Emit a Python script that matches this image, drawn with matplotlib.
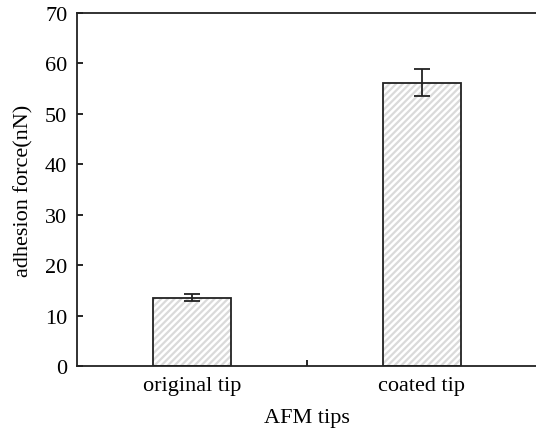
import matplotlib
matplotlib.use('Agg')
from matplotlib import pyplot as plt

categorias = ['original tip', 'coated tip']
forca = [13.5, 56.2]
erro = [0.7, 2.7]

plt.rcParams['font.family'] = ['Liberation Serif', 'DejaVu Serif']
plt.rcParams['hatch.linewidth'] = 1.6

fig = plt.figure(figsize=(5.36, 4.31), dpi=100)
ax = fig.add_axes([77 / 536, 1 - 367 / 431, 460 / 536, 353 / 431])

pos = list(range(len(categorias)))
ax.bar(pos, forca, width=0.34, color='white', edgecolor='#dadada', hatch='/////', linewidth=0)
ax.bar(pos, forca, width=0.34, fill=False, edgecolor='#222222', linewidth=1.3)
ax.errorbar(pos, forca, yerr=erro, fmt='none', ecolor='#222222', elinewidth=1.3,
            capsize=5.5, capthick=1.3)

ax.set_xlim(-0.5, 1.5)
ax.set_ylim(0, 70)
ax.set_yticks(range(0, 71, 10))
ax.set_xticks([0.5])
ax.set_xticklabels([''])
for p, c in zip(pos, categorias):
    ax.text(p, -1.9, c, ha='center', va='top', fontsize=16)
ax.tick_params(direction='in', length=4, width=1.2, labelsize=16)
ax.tick_params(axis='y', pad=7)
for s in ax.spines.values():
    s.set_linewidth(1.3)
    s.set_color('#222222')

ax.set_xlabel('AFM tips', fontsize=16, va='center')
ax.xaxis.set_label_coords(0.5, -0.145)
ax.set_ylabel('adhesion force(nN)', fontsize=16, va='center')
ax.yaxis.set_label_coords(-0.115, 0.5)

plt.savefig('out.png')
plt.close()
